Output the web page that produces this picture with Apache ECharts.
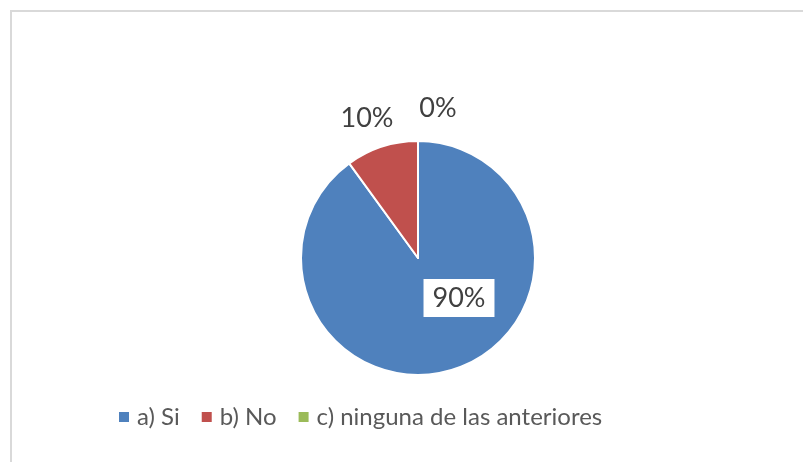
<!DOCTYPE html>
<html>
<head>
<meta charset="utf-8">
<script src="https://cdn.jsdelivr.net/npm/echarts@6/dist/echarts.min.js"></script>
<style>
    html, body { margin: 0; padding: 0; background: #fff; }
    #chart { width: 803px; height: 462px; }
</style>
</head>
<body>
<div id="chart"></div>
<script>
var categories = ['a) Si', 'b) No', 'c) ninguna de las anteriores'];
var percents = [90, 10, 0];
var colors = ['#4F81BD', '#C0504D', '#9BBB59'];

// where each percent label sits (Excel puts them by hand-ish)
var labelSpots = [[459, 298], [367, 118], [438, 108]];

var chart = echarts.init(document.getElementById('chart'));

var pieData = categories.map(function (name, i) {
    return {
        name: name,
        value: percents[i],
        itemStyle: { color: colors[i] },
        label: i === 0 ? {
            backgroundColor: '#fff',
            padding: [6, 9, 5, 9]
        } : {}
    };
});

var option = {
    animation: false,
    textStyle: { fontFamily: 'Lato' },
    graphic: [{
        type: 'rect',
        shape: { x: 11, y: 11, width: 900, height: 600 },
        style: { fill: 'none', stroke: '#D9D9D9', lineWidth: 2 },
        silent: true
    }],
    legend: {
        data: categories,
        left: 112,
        top: 400,
        icon: 'rect',
        itemWidth: 12,
        itemHeight: 12,
        itemGap: 20,
        textStyle: {
            fontFamily: 'Lato',
            fontSize: 24,
            color: '#595959',
            padding: [0, 0, 0, 2]
        }
    },
    series: [{
        type: 'pie',
        center: [418, 258],
        radius: 117,
        startAngle: 90,
        clockwise: true,
        avoidLabelOverlap: false,
        minShowLabelAngle: -1,
        itemStyle: { borderColor: '#fff', borderWidth: 2 },
        label: {
            show: true,
            position: 'outside',
            formatter: '{d}%',
            fontFamily: 'Lato',
            fontSize: 27,
            color: '#404040'
        },
        labelLine: { show: false },
        labelLayout: function (params) {
            var p = labelSpots[params.dataIndex];
            return { x: p[0], y: p[1], align: 'center', verticalAlign: 'middle' };
        },
        emphasis: { disabled: true },
        data: pieData
    }]
};
chart.setOption(option);
</script>
</body>
</html>
